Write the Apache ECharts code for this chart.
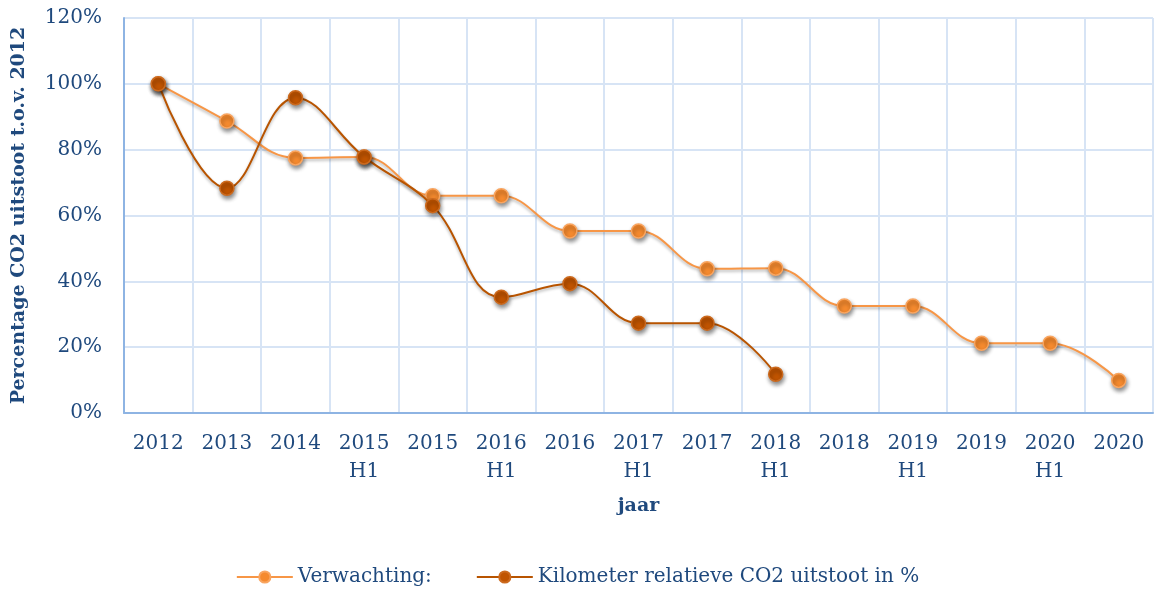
<!DOCTYPE html>
<html>
<head>
<meta charset="utf-8">
<script src="https://cdn.jsdelivr.net/npm/echarts@6/dist/echarts.min.js"></script>
<style>
html,body{margin:0;padding:0;background:#fff;}
#chart{width:1155px;height:589px;}
</style>
</head>
<body>
<div id="chart"></div>
<script>
/*数据*/
var jaren = ['2012', '2013', '2014', '2015\nH1', '2015', '2016\nH1', '2016', '2017\nH1', '2017', '2018\nH1', '2018', '2019\nH1', '2019', '2020\nH1', '2020'];
var verwachting = [100, 88.7, 77.5, 77.8, 66, 66, 55.3, 55.3, 43.8, 44, 32.5, 32.5, 21.2, 21.2, 9.9];
var kilometer = [100, 68.3, 95.8, 77.8, 63, 35.2, 39.3, 27.3, 27.3, 11.8];
var yTicks = [0, 20, 40, 60, 80, 100, 120];

var labelColor = '#1F497D';
var fontFam = '"DejaVu Serif", "Liberation Serif", serif';

function markerStyle(fill, border){
	return {
		color: fill,
		borderColor: border,
		borderWidth: 1.5,
		shadowBlur: 4,
		shadowColor: 'rgba(0,0,0,0.45)',
		shadowOffsetX: 1,
		shadowOffsetY: 3
	};
}

var option = {
	animation: false,
	backgroundColor: '#fff',
	grid: {
		left: 124,
		right: 2,
		top: 18,
		bottom: 176,
		outerBoundsMode: 'none',
		containLabel: false
	},
	legend: {
		top: 562,
		left: 'center',
		itemWidth: 56,
		itemHeight: 14,
		itemGap: 44,
		textStyle: {
			color: labelColor,
			fontFamily: fontFam,
			fontSize: 20
		},
		data: ['Verwachting:', 'Kilometer relatieve CO2 uitstoot in %']
	},
	xAxis: {
		type: 'category',
		data: jaren,
		boundaryGap: true,
		name: 'jaar',
		nameLocation: 'middle',
		nameGap: 84,
		nameTextStyle: {
			color: labelColor,
			fontFamily: fontFam,
			fontWeight: 'bold',
			fontSize: 19
		},
		axisLine: {lineStyle: {color: '#8EB4E3', width: 2}},
		axisTick: {show: false},
		axisLabel: {
			interval: 0,
			color: labelColor,
			fontFamily: fontFam,
			fontSize: 20,
			lineHeight: 28,
			margin: 17,
			verticalAlign: 'top'
		},
		splitLine: {show: true, lineStyle: {color: '#D7E4F5', width: 2}}
	},
	yAxis: {
		type: 'value',
		min: 0,
		max: yTicks[yTicks.length - 1],
		interval: yTicks[1] - yTicks[0],
		name: 'Percentage CO2 uitstoot t.o.v. 2012',
		nameLocation: 'middle',
		nameGap: 95,
		nameTextStyle: {
			color: labelColor,
			fontFamily: fontFam,
			fontWeight: 'bold',
			fontSize: 19
		},
		axisLine: {show: true, lineStyle: {color: '#8EB4E3', width: 2}},
		axisTick: {show: false},
		axisLabel: {
			color: labelColor,
			fontFamily: fontFam,
			fontSize: 20,
			margin: 22,
			formatter: '{value}%'
		},
		splitLine: {show: true, lineStyle: {color: '#D7E4F5', width: 2}}
	},
	series: [
		{
			name: 'Verwachting:',
			type: 'line',
			data: verwachting,
			smooth: 0.4,
			symbol: 'circle',
			symbolSize: 14,
			z: 2,
			lineStyle: {
				color: '#F79646',
				width: 2,
				shadowBlur: 3,
				shadowColor: 'rgba(0,0,0,0.3)',
				shadowOffsetY: 2
			},
			itemStyle: markerStyle('#F58A2E', '#F9A560')
		},
		{
			name: 'Kilometer relatieve CO2 uitstoot in %',
			type: 'line',
			data: kilometer,
			smooth: 0.4,
			symbol: 'circle',
			symbolSize: 14,
			z: 3,
			lineStyle: {
				color: '#B85400',
				width: 2,
				shadowBlur: 3,
				shadowColor: 'rgba(0,0,0,0.3)',
				shadowOffsetY: 2
			},
			itemStyle: markerStyle('#C05400', '#CC6A1E')
		}
	]
};

var ichart = echarts.init(document.getElementById('chart'));
ichart.setOption(option, true);
</script>
</body>
</html>
